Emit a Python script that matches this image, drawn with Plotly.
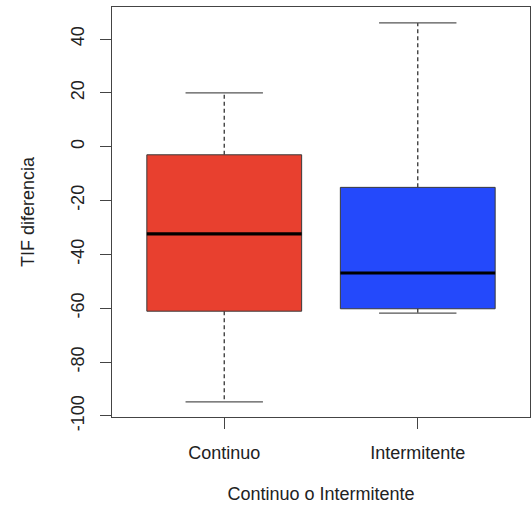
import plotly.graph_objects as go

categories = ["Continuo", "Intermitente"]
lower = [-94.8, -61.8]
q1 = [-61.1, -60.2]
median = [-32.4, -46.9]
q3 = [-3.0, -15.1]
upper = [20.0, 46.0]
fills = ["#E8402F", "#2449FB"]
yticks = [-100, -80, -60, -40, -20, 0, 20, 40]
ytick_labels = [str(v) for v in yticks]

FONT = "Liberation Sans, Arial, sans-serif"
BOX_HALF = 0.4
CAP_HALF = 0.2

fig = go.Figure()
for i, cat in enumerate(categories):
    x = i + 1
    # dashed whiskers
    fig.add_trace(go.Scatter(x=[x, x], y=[q3[i], upper[i]], mode="lines",
                             line=dict(color="#333333", width=1.3, dash="4px,3px"),
                             showlegend=False, hoverinfo="skip"))
    fig.add_trace(go.Scatter(x=[x, x], y=[q1[i], lower[i]], mode="lines",
                             line=dict(color="#333333", width=1.3, dash="4px,3px"),
                             showlegend=False, hoverinfo="skip"))
    # caps
    for v in (upper[i], lower[i]):
        fig.add_trace(go.Scatter(x=[x - CAP_HALF, x + CAP_HALF], y=[v, v], mode="lines",
                                 line=dict(color="#555555", width=1.3),
                                 showlegend=False, hoverinfo="skip"))
    # box
    fig.add_trace(go.Scatter(
        x=[x - BOX_HALF, x + BOX_HALF, x + BOX_HALF, x - BOX_HALF, x - BOX_HALF],
        y=[q1[i], q1[i], q3[i], q3[i], q1[i]],
        mode="lines", fill="toself", fillcolor=fills[i],
        line=dict(color="#3a3a3a", width=1), name=cat, showlegend=False))
    # median
    fig.add_trace(go.Scatter(x=[x - BOX_HALF, x + BOX_HALF], y=[median[i], median[i]],
                             mode="lines", line=dict(color="#000000", width=3.2),
                             showlegend=False, hoverinfo="skip"))

fig.update_layout(
    width=532, height=508,
    margin=dict(l=112, r=2, t=7, b=91),
    paper_bgcolor="white", plot_bgcolor="white",
    font=dict(family=FONT, size=18, color="#222222"),
    xaxis=dict(range=[0.42, 2.58], tickvals=[1, 2], ticktext=categories,
               showgrid=False, zeroline=False, showline=True, mirror=True,
               linecolor="#444444", linewidth=1.2, ticks="outside", ticklen=11,
               tickcolor="#444444", tickwidth=1.2, ticklabelstandoff=8,
               tickfont=dict(size=18, family=FONT),
               title=dict(text="Continuo o Intermitente", standoff=25,
                          font=dict(size=18, family=FONT))),
    yaxis=dict(range=[-100.4, 51.9], tickvals=yticks, ticktext=ytick_labels,
               showgrid=False, zeroline=False, showline=True, mirror=True,
               linecolor="#444444", linewidth=1.2, ticks="outside", ticklen=11,
               tickcolor="#444444", tickwidth=1.2, tickangle=-90,
               ticklabelstandoff=9,
               tickfont=dict(size=18, family=FONT),
               title=dict(text="TIF diferencia", standoff=28,
                          font=dict(size=18, family=FONT))),
)

fig.write_html("out.html")
